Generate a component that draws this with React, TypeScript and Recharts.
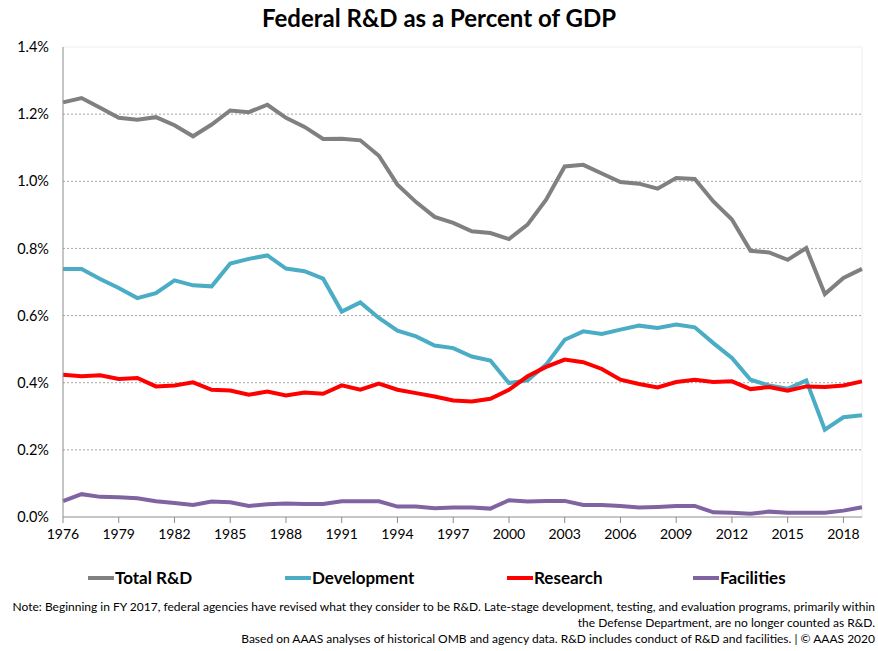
import { LineChart, Line, XAxis, YAxis, CartesianGrid, ReferenceLine } from 'recharts';

const years = Array.from({ length: 44 }, (_, i) => 1976 + i);

const totalRD = [
  1.235, 1.248, 1.219, 1.189, 1.183, 1.191, 1.167, 1.134, 1.169, 1.211, 1.206, 1.228,
  1.189, 1.162, 1.126, 1.127, 1.122, 1.076, 0.99, 0.938, 0.894, 0.876, 0.851, 0.846,
  0.828, 0.871, 0.945, 1.044, 1.049, 1.023, 0.998, 0.993, 0.978, 1.01, 1.007, 0.94,
  0.886, 0.793, 0.788, 0.766, 0.801, 0.664, 0.712, 0.739,
];

const development = [
  0.739, 0.739, 0.709, 0.682, 0.652, 0.667, 0.705, 0.69, 0.687, 0.755, 0.769, 0.779,
  0.74, 0.732, 0.71, 0.612, 0.639, 0.593, 0.555, 0.538, 0.511, 0.503, 0.478, 0.466,
  0.399, 0.407, 0.454, 0.528, 0.553, 0.545, 0.558, 0.57, 0.563, 0.573, 0.565, 0.518,
  0.474, 0.409, 0.392, 0.382, 0.407, 0.26, 0.297, 0.303,
];

const research = [
  0.424, 0.419, 0.422, 0.411, 0.414, 0.389, 0.392, 0.401, 0.379, 0.377, 0.364, 0.374,
  0.362, 0.371, 0.367, 0.392, 0.379, 0.397, 0.379, 0.369, 0.359, 0.347, 0.344, 0.352,
  0.379, 0.419, 0.447, 0.469, 0.461, 0.441, 0.409, 0.396, 0.386, 0.402, 0.409, 0.402,
  0.404, 0.381, 0.387, 0.376, 0.389, 0.387, 0.392, 0.404,
];

const facilities = [
  0.047, 0.068, 0.06, 0.059, 0.056, 0.047, 0.042, 0.036, 0.046, 0.044, 0.033, 0.038,
  0.04, 0.039, 0.039, 0.047, 0.047, 0.047, 0.031, 0.031, 0.026, 0.028, 0.028, 0.025,
  0.05, 0.046, 0.048, 0.048, 0.036, 0.036, 0.033, 0.028, 0.03, 0.033, 0.033, 0.014,
  0.013, 0.01, 0.016, 0.013, 0.013, 0.013, 0.019, 0.029,
];

const xTicks = [1976, 1979, 1982, 1985, 1988, 1991, 1994, 1997, 2000, 2003, 2006, 2009, 2012, 2015, 2018];
const yTicks = [0, 0.2, 0.4, 0.6, 0.8, 1.0, 1.2, 1.4];

const series = [
  { key: 'total', name: 'Total R&D', color: '#808080' },
  { key: 'development', name: 'Development', color: '#4bacc6' },
  { key: 'research', name: 'Research', color: '#ff0000' },
  { key: 'facilities', name: 'Facilities', color: '#8064a2' },
];

const data = years.map((year, i) => ({
  year,
  total: totalRD[i],
  development: development[i],
  research: research[i],
  facilities: facilities[i],
}));

const font = 'Lato, "Open Sans", sans-serif';
const legendX = [88, 285, 507, 693];

export default function App() {
  return (
    <div style={{ position: 'absolute', left: 0, top: 0, width: 878, height: 651, background: '#fff', fontFamily: font }}>
      <div style={{ position: 'absolute', top: 3, left: 0, width: 878, textAlign: 'center', fontSize: 24, fontWeight: 700, color: '#000' }}>
        Federal R&amp;D as a Percent of GDP
      </div>
      <div style={{ position: 'absolute', left: 0, top: 0 }}>
        <LineChart width={878} height={560} data={data} margin={{ top: 47, right: 16, left: 0, bottom: 13 }}>
          <CartesianGrid stroke="#a6a6a6" strokeDasharray="2 2" vertical={false} horizontalValues={[0.2, 0.4, 0.6, 0.8, 1.0, 1.2]} />
          <ReferenceLine y={1.4} stroke="#eeeeee" />
          <ReferenceLine x={2019} stroke="#eeeeee" />
          <XAxis
            dataKey="year"
            type="number"
            domain={[1976, 2019]}
            ticks={xTicks}
            interval={0}
            stroke="#8c8c8c"
            tickSize={6}
            tick={{ fill: '#000', fontSize: 14, fontFamily: font }}
            tickMargin={6}
            height={30}
          />
          <YAxis
            type="number"
            domain={[0, 1.4]}
            ticks={yTicks}
            interval={0}
            width={63}
            stroke="#8c8c8c"
            tickLine={false}
            tickFormatter={(v: number) => `${v.toFixed(1)}%`}
            tick={{ fill: '#000', fontSize: 14.5, fontFamily: font }}
            tickMargin={8}
          />
          {series.map((s) => (
            <Line
              key={s.key}
              dataKey={s.key}
              name={s.name}
              stroke={s.color}
              strokeWidth={4}
              dot={false}
              type="linear"
              isAnimationActive={false}
            />
          ))}
        </LineChart>
      </div>
      {series.map((s, i) => (
        <div key={s.key} style={{ position: 'absolute', left: legendX[i], top: 567, display: 'flex', alignItems: 'center', fontSize: 17, fontWeight: 700, color: '#000' }}>
          <span style={{ display: 'inline-block', width: 26, height: 4, background: s.color, marginRight: 1 }} />
          {s.name}
        </div>
      ))}
      <div style={{ position: 'absolute', right: 3, top: 599, width: 872, textAlign: 'right', fontSize: 12, lineHeight: '16px', color: '#000' }}>
        <div>Note: Beginning in FY 2017, federal agencies have revised what they consider to be R&amp;D. Late-stage development, testing, and evaluation programs, primarily within</div>
        <div>the Defense Department, are no longer counted as R&amp;D.</div>
        <div>Based on AAAS analyses of historical OMB and agency data. R&amp;D includes conduct of R&amp;D and facilities. | © AAAS 2020</div>
      </div>
    </div>
  );
}
